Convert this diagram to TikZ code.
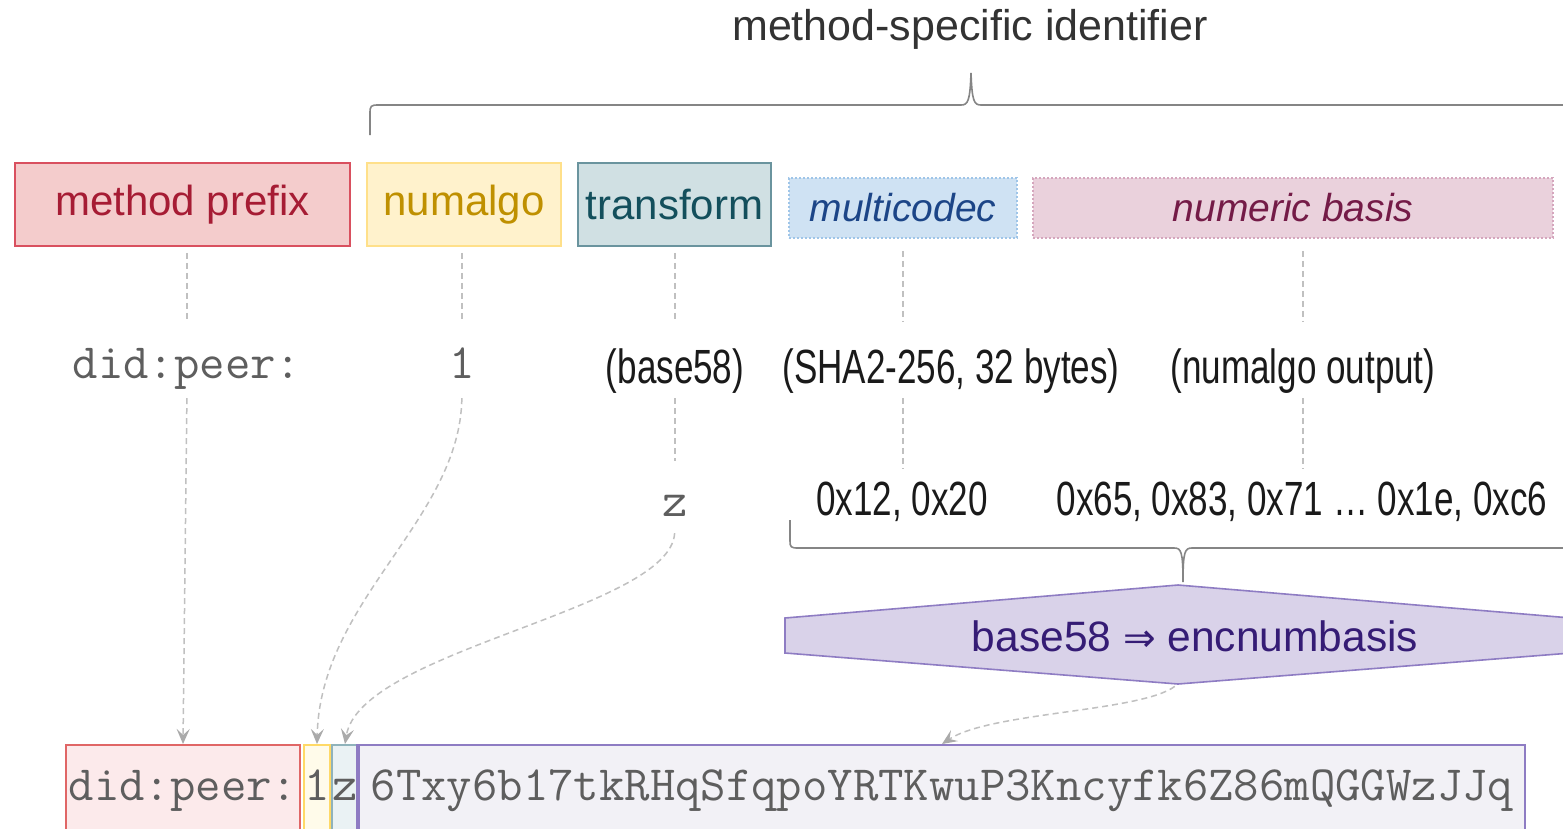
\documentclass[tikz,border=0pt]{standalone}
\usepackage{fontspec}
\setmainfont{Liberation Sans}
\newfontfamily\condfont[FakeStretch=0.73]{Liberation Sans}
\newfontfamily\dejavu{DejaVu Sans}
\usetikzlibrary{arrows.meta}
\definecolor{mpfill}{HTML}{F4CCCC}\definecolor{mpdraw}{HTML}{D9505F}\definecolor{mptext}{HTML}{A61C34}
\definecolor{nafill}{HTML}{FFF2CC}\definecolor{nadraw}{HTML}{FFE08A}\definecolor{natext}{HTML}{BF9000}
\definecolor{trfill}{HTML}{D0E0E3}\definecolor{trdraw}{HTML}{6A949E}\definecolor{trtext}{HTML}{134F5C}
\definecolor{mcfill}{HTML}{CFE2F3}\definecolor{mcdraw}{HTML}{9FC5E8}\definecolor{mctext}{HTML}{1C4587}
\definecolor{nbfill}{HTML}{EAD1DC}\definecolor{nbdraw}{HTML}{D5A6BD}\definecolor{nbtext}{HTML}{741B47}
\definecolor{hxfill}{HTML}{D9D2E9}\definecolor{hxdraw}{HTML}{8E7CC3}\definecolor{hxtext}{HTML}{351C75}
\definecolor{brfill}{HTML}{FCEAEB}\definecolor{brdraw}{HTML}{E06666}
\definecolor{byfill}{HTML}{FFFBEA}\definecolor{bydraw}{HTML}{FFD966}
\definecolor{bbfill}{HTML}{EAF2F4}\definecolor{bbdraw}{HTML}{8FB3BB}
\definecolor{bpfill}{HTML}{F2F1F6}\definecolor{bpdraw}{HTML}{8E7CC3}
\definecolor{connc}{HTML}{C0C0C0}\definecolor{arrc}{HTML}{AAAAAA}
\definecolor{monoc}{HTML}{5E5E5E}\definecolor{condc}{HTML}{1A1A1A}
\definecolor{bracec}{HTML}{858585}\definecolor{titlec}{HTML}{333333}
\tikzset{
  topbox/.style={draw, line width=1.5pt, minimum height=83pt, inner sep=0pt, font=\fontsize{42}{48}\selectfont},
  dotbox/.style={draw, line width=1.5pt, dash pattern=on 2pt off 2pt, minimum height=60pt, inner sep=0pt, font=\fontsize{39}{45}\selectfont\itshape},
  monotext/.style={inner sep=0pt, text=monoc, font=\ttfamily\fontsize{49.3}{55}\selectfont, text height=30pt, text depth=11pt},
  condtext/.style={inner sep=0pt, text=condc, font=\condfont\fontsize{48}{54}\selectfont, text height=35pt, text depth=10pt},
  bbox/.style={monotext, draw, line width=2pt, minimum height=92pt},
  conn/.style={draw=connc, line width=1.5pt, dash pattern=on 6pt off 4pt},
  arr/.style={conn, -{Stealth[length=15pt,width=13pt,inset=6pt,color=arrc]}},
  brace/.style={draw=bracec, line width=1.6pt},
}
\begin{document}
\begin{tikzpicture}[x=1pt,y=-1pt]
\useasboundingbox[fill=white] (0,0) rectangle (1563,828);

% title and top brace
\node[text=titlec, font=\fontsize{43}{49}\selectfont] (title) at (970,29) {method-specific identifier};
\draw[brace] (370,135) -- (370,113) .. controls (370,106) and (371,105) .. (378,105) -- (961,105)
  .. controls (968,105) and (970,101) .. (971,73) .. controls (972,101) and (974,105) .. (981,105) -- (1575,105);

% top boxes
\node[topbox, fill=mpfill, draw=mpdraw, text=mptext, minimum width=335pt] (mp) at (182.5,204.5) {method prefix};
\node[topbox, fill=nafill, draw=nadraw, text=natext, minimum width=194pt] (na) at (464,204.5) {numalgo};
\node[topbox, fill=trfill, draw=trdraw, text=trtext, minimum width=193pt] (tr) at (674.5,204.5) {transform};
\node[dotbox, fill=mcfill, draw=mcdraw, text=mctext, minimum width=228pt] (mc) at (903,208) {multicodec};
\node[dotbox, fill=nbfill, draw=nbdraw, text=nbtext, minimum width=520pt] (nb) at (1293,208) {numeric basis};

% second row
\node[monotext, anchor=base] (did1) at (187,378) {did:peer:};
\node[monotext, anchor=base] (one1) at (462,378) {1};
\node[condtext, anchor=base] (b58) at (675,383) {(base58)};
\node[condtext, anchor=base] (sha) at (951,383) {(SHA2-256, 32 bytes)};
\node[condtext, anchor=base] (nout) at (1303,383) {(numalgo output)};

% third row
\node[monotext, anchor=base] (z1) at (675,516) {z};
\node[condtext, anchor=base] (x12) at (902,515) {0x12, 0x20};
\node[condtext, anchor=base] (x65) at (1302,515) {0x65, 0x83, 0x71 \dots\ 0x1e, 0xc6};

% bottom brace
\draw[brace] (790,520) -- (790,541) .. controls (790,547) and (791,548) .. (798,548) -- (1174,548)
  .. controls (1181,548) and (1183,551) .. (1183,582) .. controls (1183,551) and (1185,548) .. (1192,548) -- (1575,548);

% hexagon
\draw[fill=hxfill, draw=hxdraw, line width=1.6pt] (785,618) -- (1178,585) -- (1571,618) -- (1571,653) -- (1178,684) -- (785,653) -- cycle;
\node[text=hxtext, font=\fontsize{42.5}{48}\selectfont] (enc) at (1195,636) {base58 {\dejavu\fontsize{39}{44}\selectfont ⇒} encnumbasis};
\coordinate (hexb) at (1178,684);

% bottom strip
\node[bbox, fill=brfill, draw=brdraw, minimum width=234pt] (bred) at (183,791) {did:peer:};
\node[bbox, fill=byfill, draw=bydraw, minimum width=26pt] (byel) at (317,791) {1};
\node[bbox, fill=bbfill, draw=bbdraw, minimum width=24pt] (bblue) at (345,791) {z};
\node[bbox, fill=bpfill, draw=bpdraw, minimum width=1166pt] (bpur) at (942,791) {6Txy6b17tkRHqSfqpoYRTKwuP3Kncyfk6Z86mQGGWzJJq};
\draw[draw=bpdraw, line width=4pt] (bpur.north west) -- (bpur.south west);

% dashed connectors, row 1 to row 2
\draw[conn, shorten <=6pt, shorten >=26pt] (mp.south -| did1.north) -- (did1.north);
\draw[conn, shorten <=6pt, shorten >=26pt] (na.south -| one1.north) -- (one1.north);
\draw[conn, shorten <=6pt, shorten >=26pt] (tr.south -| b58.north) -- (b58.north);
\draw[conn, shorten <=12pt, shorten >=26pt] (mc.south) -- (mc.south |- sha.north);
\draw[conn, shorten <=12pt, shorten >=26pt] (nb.south -| nout.north) -- (nout.north);

% row 2 to row 3
\draw[conn, shorten <=5pt, shorten >=25pt] (b58.south) -- (z1.north);
\draw[conn, shorten <=5pt, shorten >=11pt] (sha.south -| mc.south) -- (x12.north -| mc.south);
\draw[conn, shorten <=5pt, shorten >=11pt] (nout.south) -- (nout.south |- x65.north);

% arrows to the bottom strip
\draw[arr, shorten <=9pt] (did1.south) -- (bred.north);
\draw[arr, shorten <=9pt] (one1.south) .. controls (460,520) and (320,600) .. (byel.north);
\draw[arr, shorten <=6pt] (z1.south) .. controls (670,610) and (360,650) .. (bblue.north);
\draw[arr, shorten <=4pt] (hexb) .. controls (1140,712) and (990,712) .. (bpur.north);
\end{tikzpicture}
\end{document}
